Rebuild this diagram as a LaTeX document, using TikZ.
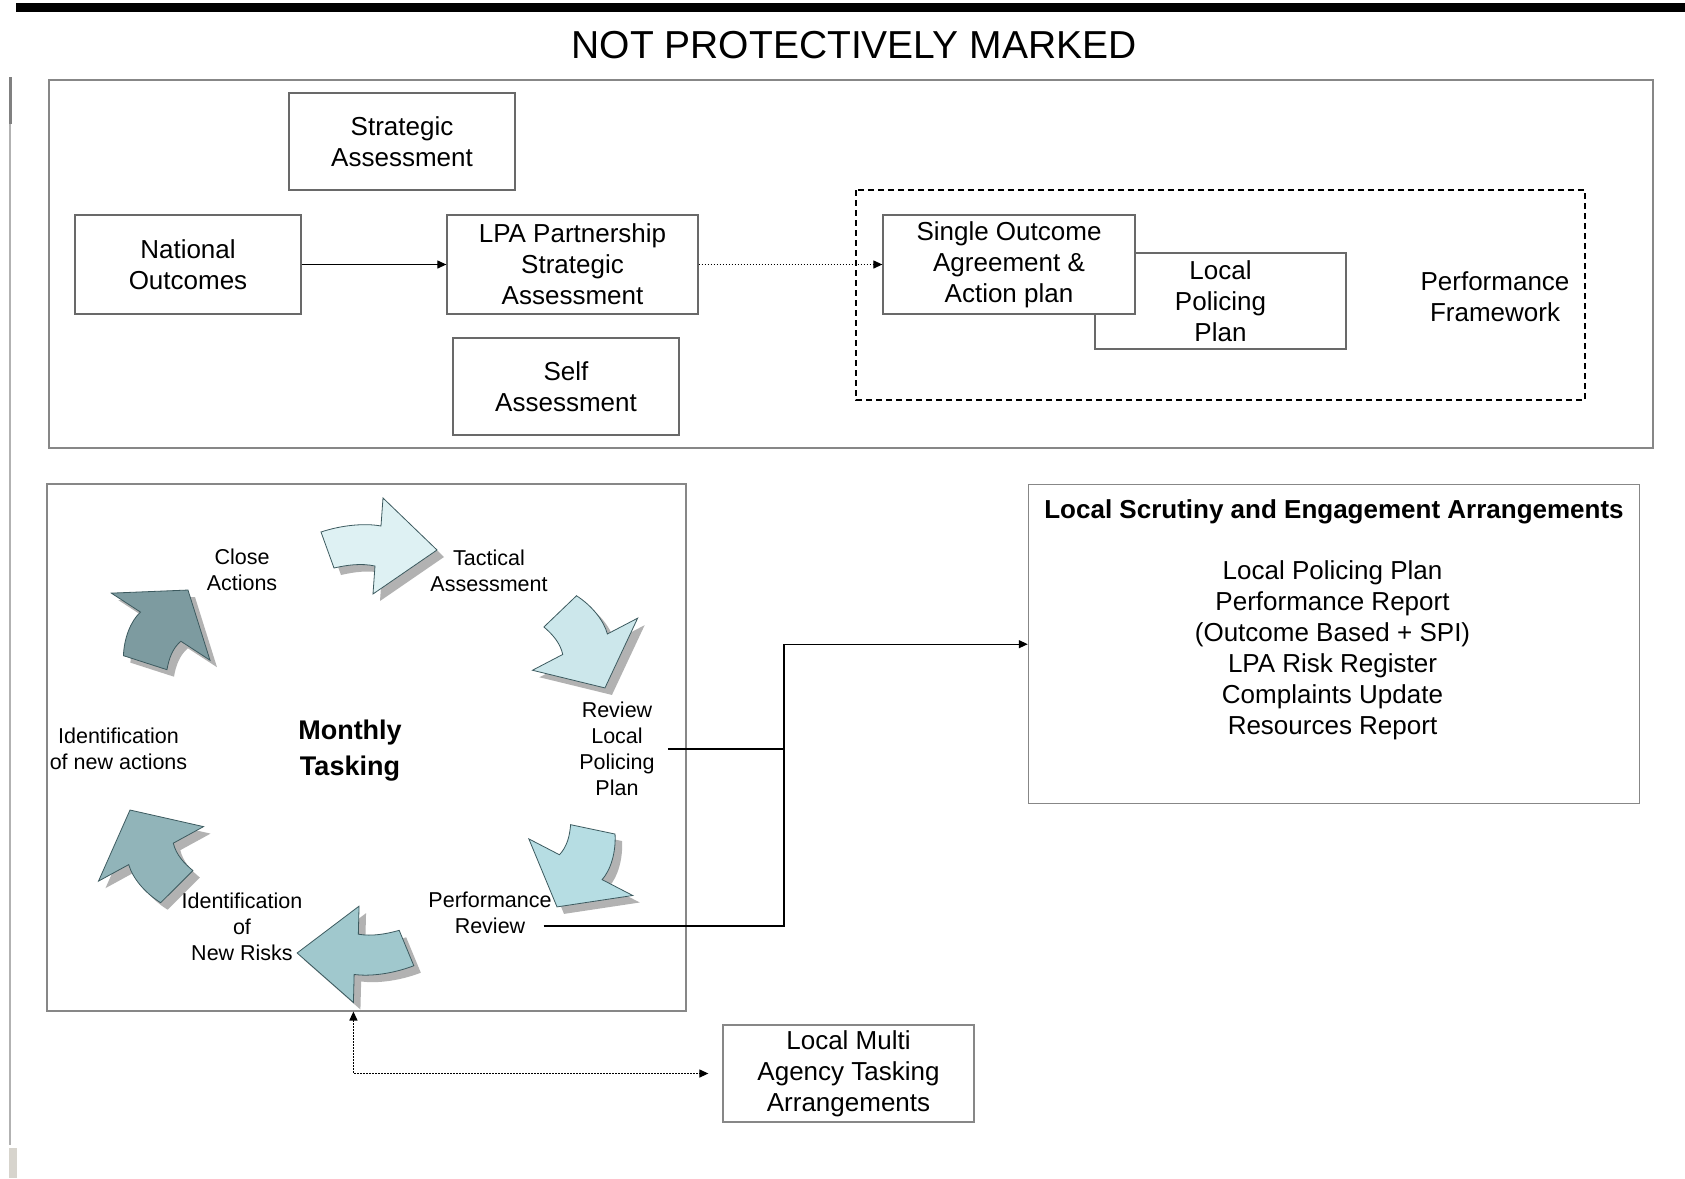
\documentclass[tikz,border=0pt]{standalone}
\usepackage{fontspec}
\setmainfont{Liberation Sans}
\usetikzlibrary{arrows.meta}
\definecolor{arrA}{RGB}{222,241,243}
\definecolor{arrB}{RGB}{204,231,235}
\definecolor{arrC}{RGB}{182,221,227}
\definecolor{arrD}{RGB}{160,200,205}
\definecolor{arrE}{RGB}{145,180,185}
\definecolor{arrF}{RGB}{125,155,160}
\definecolor{arredge}{RGB}{60,90,95}
\definecolor{shadowgray}{RGB}{178,178,178}
\definecolor{edgegray}{RGB}{105,105,105}
\definecolor{framegray}{RGB}{135,135,135}
\definecolor{scrollgray}{RGB}{215,212,205}
\newcommand\cycpath{(-6,18) .. controls (15,25) and (38,27) .. (54,24) -- (56,52) -- (110,0) -- (46,-44) -- (48,-16) .. controls (34,-13) and (20,-15) .. (7,-18) -- cycle}

\begin{document}
\begin{tikzpicture}[x=1pt,y=1pt,
  box/.style={draw=edgegray,line width=1.3pt,align=center,inner sep=2pt,font=\fontsize{26}{31}\selectfont},
  lbl/.style={align=center,inner sep=2pt,font=\fontsize{21.5}{25.8}\selectfont},
  frame/.style={draw=framegray,line width=1.5pt},
  tip/.style={-{Triangle[length=9pt,width=8pt]}},
  dots/.style={dash pattern=on 1.5pt off 1.5pt}]
\fill[white] (0,0) rectangle (1685,-1178);
\useasboundingbox (0,0) rectangle (1685,-1178);
\fill (16,-3) rectangle (1685,-12);
\fill[gray!60] (9,-77) rectangle (11,-1145);
\fill[gray] (8.5,-77) rectangle (11.5,-124);
\fill[scrollgray] (9,-1148) rectangle (17,-1178);
\node[font=\fontsize{39}{44}\selectfont] (ttl) at (854,-45) {NOT PROTECTIVELY MARKED};

\draw[frame] (49,-80) rectangle (1653,-448);
\node[box,minimum width=226pt,minimum height=97pt] (strat) at (402,-141.5) {Strategic\\Assessment};
\node[box,minimum width=226pt,minimum height=99pt] (natl) at (188,-264.5) {National\\Outcomes};
\node[box,minimum width=251pt,minimum height=99pt] (lpa) at (572.5,-264.5) {LPA Partnership\\Strategic\\Assessment};
\node[box,minimum width=226pt,minimum height=97pt] (self) at (566,-386.5) {Self\\Assessment};
\draw[line width=1.3pt,dash pattern=on 6pt off 4pt] (856,-190) rectangle (1585,-400);
\node[box,minimum width=251pt,minimum height=96pt] (lpp) at (1220.5,-301) {Local\\Policing\\Plan};
\node[box,fill=white,minimum width=252pt,minimum height=99pt] (soa) at (1009,-264.5) {Single Outcome\\Agreement \&\\Action plan};
\node[align=center,font=\fontsize{26}{31}\selectfont] (perf) at (1495,-297) {Performance\\Framework};
\draw[tip,line width=1.2pt] (natl) -- (lpa);
\draw[tip,dots,line width=1.2pt] (lpa) -- (soa);

\draw[frame] (47,-484) rectangle (686,-1011);
\foreach \x/\y/\r/\sx/\sy/\c/\n in {327/-550/0/1/1/arrA/1, 560/-611/-59.7/.81/1.22/arrB/2,
  593/-829/-114.8/.78/1.23/arrC/3, 407/-948/182.6/1/1/arrD/4,
  177/-887/121.4/.82/1.23/arrE/5, 145/-663/59.5/.77/1.24/arrF/6}
{
\fill[shadowgray,shift={(\x+7,\y-7)},rotate=\r,xscale=\sx,yscale=\sy] \cycpath;
\filldraw[fill=\c,draw=arredge,line width=.8pt,shift={(\x,\y)},rotate=\r,xscale=\sx,yscale=\sy] \cycpath;
\path[shift={(\x,\y)},rotate=\r,xscale=\sx,yscale=\sy] (56,52) coordinate (w\n);
}
\node[lbl] (cls) at (242,-570) {Close\\Actions};
\node[lbl] (tac) at (489,-571) {Tactical\\Assessment};
\node[lbl] (rlpp) at (617,-749) {Review\\Local\\Policing\\Plan};
\node[lbl] (prv) at (490,-913) {Performance\\Review};
\node[lbl] (nrk) at (242,-927) {Identification\\of\\New Risks};
\node[lbl] (nac) at (118.5,-749) {Identification\\of new actions};
\node[align=center,font=\fontsize{27}{36}\selectfont\bfseries] (mt) at (350,-751) {Monthly\\Tasking};

\node[draw=framegray,line width=1.5pt,minimum width=611pt,minimum height=319pt] (lse) at (1334,-644.2) {};
\node[font=\fontsize{26}{31}\selectfont\bfseries] (lsettl) at (1334,-511.5) {Local Scrutiny and Engagement Arrangements};
\node[align=center,font=\fontsize{26}{31}\selectfont] (lsebody) at (1332.5,-650.7) {Local Policing Plan\\Performance Report\\(Outcome Based + SPI)\\LPA Risk Register\\Complaints Update\\Resources Report};
\node[box,draw=framegray,minimum width=251pt,minimum height=97pt] (lmata) at (848.5,-1073.5) {Local Multi\\Agency Tasking\\Arrangements};

\draw[tip,line width=1.3pt] ([xshift=11pt]rlpp.east) -- ++(116,0) coordinate (jn) |- (lse);
\draw[line width=1.3pt] ([xshift=-10pt,yshift=-13pt]prv.east) -| (jn);
\draw[{Triangle[length=9pt,width=8pt]}-{Triangle[length=9pt,width=8pt]},dots,line width=1.2pt] ([yshift=-9pt]w4) |- ([xshift=-14pt]lmata.west);
\end{tikzpicture}
\end{document}
